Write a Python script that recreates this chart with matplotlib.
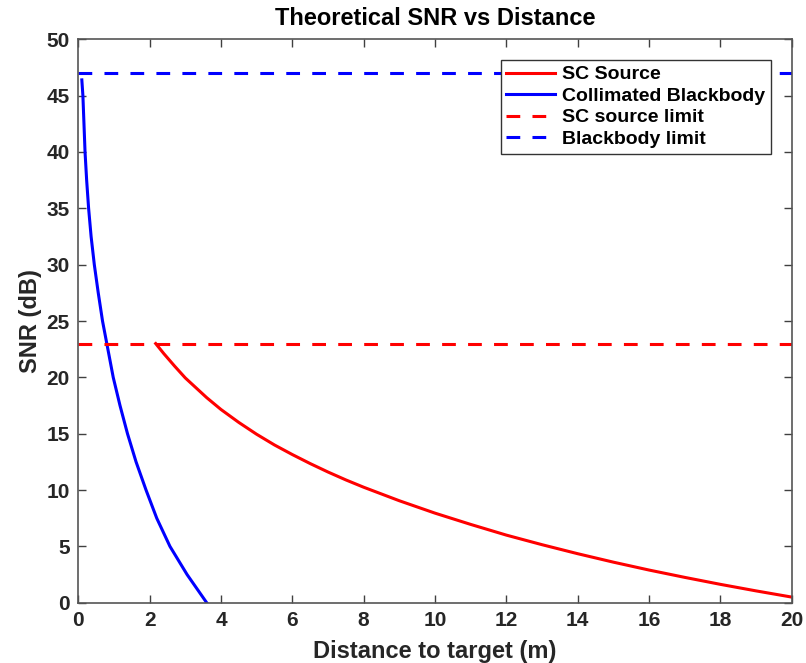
import matplotlib.pyplot as plt

# data
bb_dist = [0.10, 0.13, 0.16, 0.19, 0.235, 0.29, 0.36, 0.45, 0.56, 0.68, 0.80, 0.98,
           1.17, 1.38, 1.62, 1.90, 2.20, 2.57, 3.05, 3.60]
bb_snr = [46.4, 45.0, 42.5, 40.0, 37.5, 35.0, 32.5, 30.0, 27.5, 25.0, 23.0, 20.0,
          17.5, 15.0, 12.5, 10.0, 7.5, 5.0, 2.5, 0.0]

sc_dist = [2.17, 2.40, 2.70, 3.00, 3.60, 4.00, 4.50, 5.00, 5.50, 6.00, 6.50, 7.00, 7.50,
           8.00, 9.00, 10.0, 11.0, 12.0, 13.0, 14.0, 15.0, 16.0, 17.0, 18.0, 19.0, 20.0]
sc_snr = [23.0, 22.1, 21.0, 19.95, 18.2, 17.15, 16.0, 14.95, 14.0, 13.15, 12.35, 11.6, 10.9,
          10.25, 9.05, 7.95, 6.95, 6.0, 5.15, 4.35, 3.6, 2.9, 2.25, 1.63, 1.05, 0.5]

sc_limit = 23
bb_limit = 47

plt.rcParams['font.family'] = ['Liberation Sans', 'DejaVu Sans']
plt.rcParams['font.weight'] = 'bold'

fig = plt.figure(figsize=(8.06, 6.63), dpi=100)
ax = fig.add_axes([0.0971, 0.0909, 0.8853, 0.8498])

ax.plot(sc_dist, sc_snr, color='#ff0000', linewidth=2.2, label='SC Source')
ax.plot(bb_dist, bb_snr, color='#0000ff', linewidth=2.2, label='Collimated Blackbody')
ax.axhline(sc_limit, color='#ff0000', linewidth=2.2, linestyle=(0, (4.5, 4.0)), label='SC source limit')
ax.axhline(bb_limit, color='#0000ff', linewidth=2.2, linestyle=(0, (4.5, 4.0)), label='Blackbody limit')

ax.set_xlim(0, 20)
ax.set_ylim(0, 50)
ax.set_xticks(range(0, 21, 2))
ax.set_yticks(range(0, 51, 5))
ax.tick_params(direction='in', top=True, right=True, length=6, width=1,
               color='#404040', labelsize=15, labelcolor='#262626', pad=6)
for s in ax.spines.values():
    s.set_color('#555555')
    s.set_linewidth(1.2)

ax.set_title('Theoretical SNR vs Distance', fontsize=17, fontweight='bold', pad=10)
ax.set_xlabel('Distance to target (m)', fontsize=17, fontweight='bold', color='#262626', labelpad=7)
ax.set_ylabel('SNR (dB)', fontsize=17, fontweight='bold', color='#262626', labelpad=3)

leg = ax.legend(loc='upper right', bbox_to_anchor=(0.9706, 0.9633), borderaxespad=0,
                fancybox=False, framealpha=1, edgecolor='#333333', fontsize=14,
                handlelength=2.5, handletextpad=0.35, labelspacing=0.2, borderpad=0.3)
leg.get_frame().set_linewidth(1.0)

plt.savefig('out.png', dpi=100)
plt.close()
